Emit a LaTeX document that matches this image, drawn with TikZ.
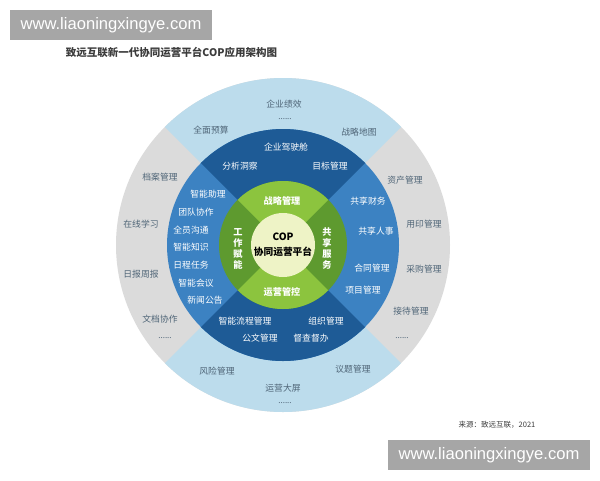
\documentclass[tikz,border=0pt]{standalone}
\usepackage{fontspec}
\setmainfont{Noto Sans CJK SC}
\newfontfamily\wmfont{Liberation Sans}
\definecolor{outerblue}{HTML}{BCDCEC}
\definecolor{outergrey}{HTML}{DBDBDB}
\definecolor{darkblue}{HTML}{1E5B96}
\definecolor{midblue}{HTML}{3C82C2}
\definecolor{lightgreen}{HTML}{8CC43E}
\definecolor{darkgreen}{HTML}{5E9A2F}
\definecolor{palegreen}{HTML}{EEF3C6}
\definecolor{outertext}{HTML}{4F6577}
\definecolor{wmgrey}{HTML}{A6A6A6}
\definecolor{titlegrey}{HTML}{3C3C3C}
\begin{document}
\begin{tikzpicture}[x=1pt,y=-1pt,
  outertxt/.style={font=\fontsize{8.8}{10}\selectfont, text=outertext, inner sep=0pt},
  dots/.style={font=\fontsize{8}{9}\selectfont, text=outertext, inner sep=0pt},
  bluetxt/.style={font=\fontsize{8.8}{10}\selectfont, text=white, inner sep=0pt},
  greentxt/.style={font=\fontsize{9.2}{11}\selectfont\bfseries, text=white, inner sep=0pt, align=center},
  wmbox/.style={fill=wmgrey, draw=none},
  wmtxt/.style={font=\wmfont\fontsize{16.6}{18}\selectfont, text=white, inner sep=0pt}]
\useasboundingbox (0,0) rectangle (600,480);
\fill[white] (0,0) rectangle (600,480);
% watermarks
\fill[wmbox] (10,10) rectangle (212,40);
\node[wmtxt] (wm1) at (111,25) {www.liaoningxingye.com};
\fill[wmbox] (388,440) rectangle (590,470);
\node[wmtxt] (wm2) at (489,455) {www.liaoningxingye.com};
% title
\node[font=\fontsize{10.5}{12}\selectfont\bfseries, text=titlegrey, inner sep=0pt] (title) at (171.5,52) {致远互联新一代协同运营平台COP应用架构图};
\node[font=\fontsize{7.5}{9}\selectfont, text=titlegrey, inner sep=0pt] (src) at (497,425) {来源：致远互联，2021};
% rings
\coordinate (c) at (283,245);
\fill[outergrey] (c) circle[radius=167pt];
\fill[outerblue] (c) -- ++(45:167pt) arc[start angle=45,end angle=135,radius=167pt] -- cycle;
\fill[outerblue] (c) -- ++(225:167pt) arc[start angle=225,end angle=315,radius=167pt] -- cycle;
\fill[midblue] (c) circle[radius=116pt];
\fill[darkblue] (c) -- ++(45:116pt) arc[start angle=45,end angle=135,radius=116pt] -- cycle;
\fill[darkblue] (c) -- ++(225:116pt) arc[start angle=225,end angle=315,radius=116pt] -- cycle;
\fill[darkgreen] (c) circle[radius=64pt];
\fill[lightgreen] (c) -- ++(45:64pt) arc[start angle=45,end angle=135,radius=64pt] -- cycle;
\fill[lightgreen] (c) -- ++(225:64pt) arc[start angle=225,end angle=315,radius=64pt] -- cycle;
\fill[palegreen] (c) circle[radius=32pt];
% center
\node[font=\fontsize{10}{11}\selectfont\bfseries, text=black, inner sep=0pt] (cop) at (283,237) {COP};
\node[font=\fontsize{9.7}{11}\selectfont\bfseries, text=black, inner sep=0pt] (cop2) at (283,252) {协同运营平台};
% green ring
\node[greentxt] (g1) at (282,201) {战略管理};
\node[greentxt] (g2) at (282,292) {运营管控};
\node[greentxt] (g3) at (238,249) {工\\作\\赋\\能};
\node[greentxt] (g4) at (327,249) {共\\享\\服\\务};
% blue ring
\node[bluetxt] (b1) at (286,147) {企业驾驶舱};
\node[bluetxt] (b2) at (240,166) {分析洞察};
\node[bluetxt] (b3) at (330,166) {目标管理};
\node[bluetxt] (b4) at (208,194) {智能助理};
\node[bluetxt] (b5) at (196,212) {团队协作};
\node[bluetxt] (b6) at (191,230) {全员沟通};
\node[bluetxt] (b7) at (191,247) {智能知识};
\node[bluetxt] (b8) at (191,265) {日程任务};
\node[bluetxt] (b9) at (196,283) {智能会议};
\node[bluetxt] (b10) at (205,300) {新闻公告};
\node[bluetxt] (b11) at (368,201) {共享财务};
\node[bluetxt] (b12) at (376,231) {共享人事};
\node[bluetxt] (b13) at (372,268) {合同管理};
\node[bluetxt] (b14) at (363,290) {项目管理};
\node[bluetxt] (b15) at (245,321) {智能流程管理};
\node[bluetxt] (b16) at (326,321) {组织管理};
\node[bluetxt] (b17) at (260,338) {公文管理};
\node[bluetxt] (b18) at (311,338) {督查督办};
% outer ring
\node[outertxt] (o1) at (284,104) {企业绩效};
\node[dots] (o2) at (285,119) {......};
\node[outertxt] (o3) at (211,130) {全面预算};
\node[outertxt] (o4) at (359,132) {战略地图};
\node[outertxt] (o5) at (160,177) {档案管理};
\node[outertxt] (o6) at (141,224) {在线学习};
\node[outertxt] (o7) at (141,274) {日报周报};
\node[outertxt] (o8) at (160,319) {文档协作};
\node[dots] (o9) at (165,338) {......};
\node[outertxt] (o10) at (405,180) {资产管理};
\node[outertxt] (o11) at (424,224) {用印管理};
\node[outertxt] (o12) at (424,269) {采购管理};
\node[outertxt] (o13) at (411,311) {接待管理};
\node[dots] (o14) at (402,338) {......};
\node[outertxt] (o15) at (217,371) {风险管理};
\node[outertxt] (o16) at (283,388) {运营大屏};
\node[dots] (o17) at (285,403) {......};
\node[outertxt] (o18) at (353,369) {议题管理};
\end{tikzpicture}
\end{document}
